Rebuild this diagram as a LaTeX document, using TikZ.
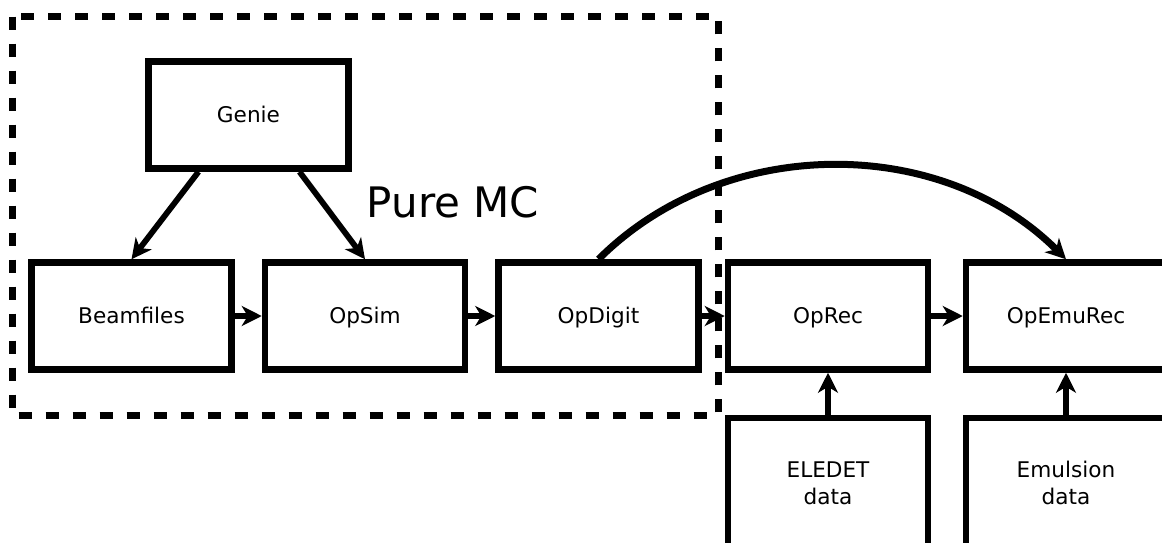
\documentclass[tikz,border=0pt]{standalone}
\usepackage{fontspec}
\setmainfont{DejaVu Sans}
\usetikzlibrary{arrows.meta}
\begin{document}
\begin{tikzpicture}[x=0.5pt,y=-0.5pt,
  box/.style={draw, line width=3.25pt, minimum width=100pt, minimum height=53.5pt,
    inner sep=0pt, text height=7.9pt, text depth=0pt,
    font=\fontsize{10.8}{13.5}\selectfont, align=center},
  tallbox/.style={box, minimum height=65pt, text height=, text depth=},
  conn/.style={line width=2.9pt, -{Stealth[length=10pt,width=10pt,inset=3pt]}},
  frame/.style={line width=3.5pt, dash pattern=on 6.5pt off 7pt}]
\useasboundingbox (0,0) rectangle (1162,542);
\clip (0,0) rectangle (1162,542);
\fill[white] (0,0) rectangle (1162,542);

\draw[frame] (12,16.7) rectangle (718,415);

\node[box] (genie) at (248.5,115) {Genie};
\node[box] (beam) at (131.5,316) {Beamfiles};
\node[box] (opsim) at (365,316) {OpSim};
\node[box] (opdigit) at (598.5,316) {OpDigit};
\node[box] (oprec) at (828,316) {OpRec};
\node[box] (opemurec) at (1066,316) {OpEmuRec};
\node[tallbox] (eledet) at (828,483) {ELEDET\\data};
\node[tallbox] (emul) at (1066,483) {Emulsion\\data};
\node[font=\fontsize{21}{25}\selectfont] (pure) at (453,202) {Pure MC};

\draw[conn] ([xshift=-25pt]genie.south) -- (beam.north);
\draw[conn] ([xshift=25.5pt]genie.south) -- (opsim.north);
\draw[conn] (beam) -- (opsim);
\draw[conn] (opsim) -- (opdigit);
\draw[conn] (opdigit) -- (oprec);
\draw[conn] (oprec) -- (opemurec);
\draw[conn] (eledet) -- (oprec);
\draw[conn] (emul) -- (opemurec);
\draw[conn, line width=3.5pt] (opdigit.north) to[out=45,in=135,looseness=0.97] (opemurec.north);
\end{tikzpicture}
\end{document}
